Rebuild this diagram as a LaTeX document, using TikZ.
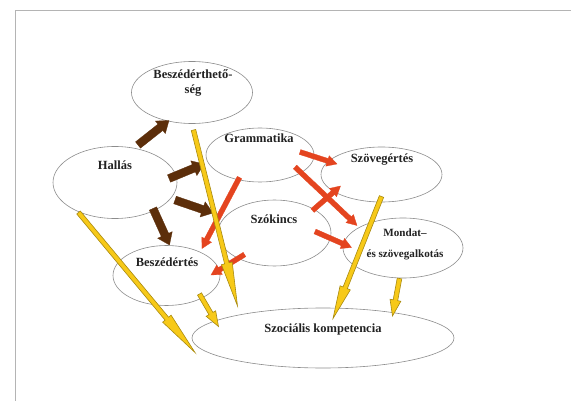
\documentclass[tikz,border=0pt]{standalone}
\usepackage{fontspec}
\setmainfont{Liberation Serif}
\usepackage{xcolor}
\definecolor{textInk}{HTML}{222222}
\definecolor{rimGray}{HTML}{8C8C8C}
\definecolor{frameGray}{HTML}{B4B4B4}
\definecolor{arrowBrown}{HTML}{5C2E0A}
\definecolor{arrowRed}{HTML}{E4441F}
\definecolor{arrowYellow}{HTML}{F7C918}
\definecolor{arrowYellowRim}{HTML}{A88A10}
\usetikzlibrary{calc, shapes.geometric}

% block arrow: style, from, to, shaft half width, head half width, head length
\newcommand{\blockarrow}[6]{%
  \draw[#1] let \p1=(#2), \p2=(#3),
      \n1={veclen(\x2-\x1,\y2-\y1)}, \n2={atan2(\y2-\y1,\x2-\x1)} in
    ($(\p1)+(\n2+90:#4)$) -- ++(\n2:\n1-#6) -- ++(\n2+90:#5-#4) -- (\p2)
    -- ($(\p1)+(\n2:\n1-#6)+(\n2-90:#5)$) -- ++(\n2+90:#5-#4)
    -- ++(\n2+180:\n1-#6) -- cycle;}
\newcommand{\brownarrow}[2]{\blockarrow{brown arrow}{#1}{#2}{4pt}{8pt}{11pt}}
\newcommand{\redarrow}[2]{\blockarrow{red arrow}{#1}{#2}{2.5pt}{5.5pt}{10pt}}
\newcommand{\yellowarrow}[3]{\blockarrow{yellow arrow}{#1}{#2}{2.3pt}{5.5pt}{#3}}

\begin{document}
\begin{tikzpicture}[x=1pt, y=-1pt,
  every node/.style={font=\bfseries\fontsize{12.5}{15}\selectfont, text=textInk},
  bubble/.style={ellipse, draw=rimGray, line width=0.6pt, fill=white, inner sep=0pt},
  caption/.style={anchor=base, inner sep=0pt},
  brown arrow/.style={fill=arrowBrown, draw=arrowBrown, line width=0.3pt},
  red arrow/.style={fill=arrowRed, draw=arrowRed, line width=0.3pt},
  yellow arrow/.style={fill=arrowYellow, draw=arrowYellowRim, line width=0.6pt},
]
\useasboundingbox (0,0) rectangle (571,401);

% Frame
\draw[frameGray, line width=1pt] (571,10.5) -- (15,10.5) -- (15,401);

% Ellipses
\node[bubble, minimum width=121pt, minimum height=62pt] (bt)  at (192,92.5) {};
\node[bubble, minimum width=108pt, minimum height=54pt] (gr)  at (260,155) {};
\node[bubble, minimum width=124pt, minimum height=72pt] (hal) at (115,182.5) {};
\node[bubble, minimum width=121pt, minimum height=55pt] (sze) at (381.5,174.5) {};
\node[bubble, minimum width=113pt, minimum height=66pt] (szo) at (274.5,233) {};
\node[bubble, minimum width=120pt, minimum height=60pt] (mon) at (403,248) {};
\node[bubble, minimum width=107pt, minimum height=60pt] (bet) at (166.5,275.5) {};
\node[bubble, minimum width=262pt, minimum height=60pt] (szk) at (323,338) {};

% Texts
\node[align=center, inner sep=0pt] (bt-txt) at (193,82.5) {Beszédérthető-\\ség};
\node[caption] (gr-txt)  at (259,142.5) {Grammatika};
\node[caption] (hal-txt) at (115,169.5) {Hallás};
\node[caption] (sze-txt) at (382,162.5) {Szövegértés};
\node[caption] (szo-txt) at (274,223.5) {Szókincs};
\node[align=center, inner sep=0pt, font=\bfseries\fontsize{11.1}{15}\selectfont] (mon-txt)
      at (405,244.5) {Mondat–\\[6pt]és szövegalkotás};
\node[caption] (bet-txt) at (167,266.5) {Beszédértés};
\node[caption] (szk-txt) at (323,332.5) {Szociális kompetencia};

% Brown arrows from Hallás
\brownarrow{$(hal)+(23,-37.5)$}{$(bt)+(-23,28)$}
\brownarrow{$(hal)+(54,-4)$}{$(gr)+(-56,9)$}
\brownarrow{$(hal)+(60,17.5)$}{$(szo)+(-61.5,-20)$}
\brownarrow{$(hal)+(38,26)$}{$(bet)+(3,-30.5)$}

% Red arrows
\redarrow{$(gr)+(40,-3)$}{$(sze)+(-44.5,-10.5)$}
\redarrow{$(gr)+(35,12)$}{$(mon)+(-46,-22.5)$}
\redarrow{$(gr)+(-20.5,22.5)$}{$(bet)+(35.5,-27)$}
\redarrow{$(szo)+(38,-22.5)$}{$(sze)+(-41,11.5)$}
\redarrow{$(szo)+(40.5,-1.5)$}{$(mon)+(-51.5,-0.5)$}
\redarrow{$(szo)+(-30,21.5)$}{$(bet)+(44.5,-0.5)$}

% Yellow arrows to Szociális kompetencia
\yellowarrow{$(bt)+(1.5,37.5)$}{$(szk)+(-85.5,-32)$}{44pt}
\yellowarrow{$(hal)+(-36.5,30)$}{$(szk)+(-128,14.5)$}{44pt}
\yellowarrow{$(bet)+(33,18.5)$}{$(szk)+(-104.5,-11.5)$}{15pt}
\yellowarrow{$(sze)+(0,22)$}{$(szk)+(10,-19.5)$}{33pt}
\yellowarrow{$(mon)+(-3.5,30.5)$}{$(szk)+(69.5,-22)$}{16pt}

\end{tikzpicture}
\end{document}
